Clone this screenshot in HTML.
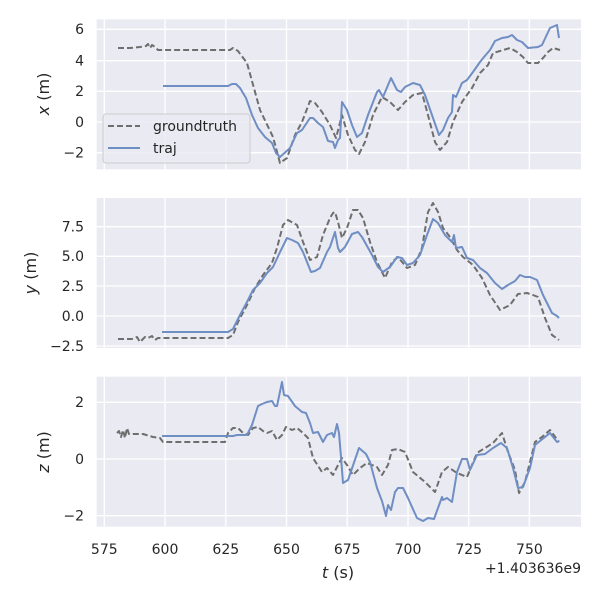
<!DOCTYPE html>
<html><head><style>body{margin:0;background:#fff}svg{display:block}text{font-family:"DejaVu Sans","Liberation Sans",sans-serif;fill:#262626}</style></head>
<body>
<svg width="600" height="600" viewBox="0 0 600 600">
<g id="bg" fill="#eaeaf2">
<rect x="96.7" y="19.3" width="484.3" height="150"/>
<rect x="96.7" y="198" width="484.3" height="150"/>
<rect x="96.7" y="376.7" width="484.3" height="150"/>
</g>
<g stroke="#fff" stroke-width="1.3">
<path d="M104.3 19.3V169.3M165 19.3V169.3M225.8 19.3V169.3M286.5 19.3V169.3M347.2 19.3V169.3M408 19.3V169.3M468.7 19.3V169.3M529.4 19.3V169.3"/>
<path d="M104.3 198V348M165 198V348M225.8 198V348M286.5 198V348M347.2 198V348M408 198V348M468.7 198V348M529.4 198V348"/>
<path d="M104.3 376.7V526.7M165 376.7V526.7M225.8 376.7V526.7M286.5 376.7V526.7M347.2 376.7V526.7M408 376.7V526.7M468.7 376.7V526.7M529.4 376.7V526.7"/>
<path d="M96.7 29.3H581M96.7 60.7H581M96.7 91.3H581M96.7 122H581M96.7 152.7H581"/>
<path d="M96.7 226.7H581M96.7 256.3H581M96.7 286H581M96.7 316H581M96.7 346H581"/>
<path d="M96.7 402.3H581M96.7 459H581M96.7 515.7H581"/>
</g>
<g fill="none" stroke-width="2" stroke-linejoin="round">
<polyline stroke="#6e6e6e" stroke-dasharray="6,3" points="118,48 130,48 140,47 146,46 148,44 150,48 152,45 155,47 158,50 230,50 233,48 238,51 247,63 260,110 273,137 276,148 280,163 287,158 295,135 302,122 310,101 315,103 322,112 330,125 336,138 342,115 348,135 355,150 359,154 365,142 373,115 382,97 390,102 398,110 405,102 413,95 422,93 428,115 435,142 440,150 447,142 453,122 462,102 472,88 480,73 488,65 493,53 500,51 510,48 517,52 523,57 528,63 538,63 543,58 548,52 553,48 560,50"/>
<polyline stroke="#6f8ec3" points="163,86 228,86 232,84 236,84 240,88 246,98 252,115 258,128 265,137 272,143 276,153 280,157 290,148 297,133 302,130 310,118 313,118 318,123 323,127 328,141 333,142 335,148 338,140 340,138 342,102 347,110 352,125 357,137 362,133 368,115 377,92 379,90 383,97 391,78 397,90 401,92 405,87 413,83 420,85 425,95 433,118 439,135 443,130 448,118 452,112 453,95 456,97 462,83 467,80 473,72 480,62 484,57 490,50 495,41 502,38 508,37 512,35 517,40 522,42 528,48 538,47 542,45 550,28 557,25 559,38"/>
<polyline stroke="#6e6e6e" stroke-dasharray="6,3" points="118,339 132,339 137,337 140,342 145,337 148,338 152,336 155,340 158,338 163,338 228,338 233,335 238,322 247,305 255,288 263,275 272,263 277,248 283,225 288,220 297,225 303,242 310,260 317,257 323,235 330,218 333,213 335,212 338,222 342,238 347,228 353,210 358,210 363,218 370,242 377,262 385,278 392,262 398,257 407,268 415,265 422,248 428,212 433,203 438,212 443,228 450,237 457,250 463,257 473,265 482,278 490,295 500,310 510,305 518,294 527,293 533,295 538,297 545,318 552,335 559,340"/>
<polyline stroke="#6f8ec3" points="162,332 228,332 233,329 240,315 247,302 253,290 260,283 267,273 273,267 280,252 287,238 292,240 298,243 303,252 311,272 315,271 320,268 327,252 330,247 335,232 338,248 340,252 345,247 352,234 358,232 362,237 372,255 378,267 383,272 390,267 397,257 402,258 407,265 413,263 420,255 427,235 433,219 438,223 445,235 452,242 454,235 456,248 462,247 467,258 473,260 480,268 487,273 495,283 502,289 508,285 515,281 520,275 525,277 530,277 537,280 543,295 552,313 557,316 559,318"/>
<polyline stroke="#6e6e6e" stroke-dasharray="6,3" points="117,433 119,431 121,437 123,430 125,438 127,428 129,434 137,434 143,434 153,437 160,438 163,442 225,442 228,433 233,428 238,428 243,433 248,435 253,428 258,427 263,431 267,433 272,431 277,440 282,435 286,427 292,430 297,428 303,433 308,438 313,458 322,472 327,468 333,475 338,465 342,458 347,465 353,475 360,468 367,463 377,467 382,475 388,465 392,450 398,449 405,452 413,472 425,482 435,492 442,472 448,467 457,473 467,477 477,453 485,448 493,443 502,433 508,452 515,470 519,493 525,482 530,462 535,442 542,437 550,430 559,442"/>
<polyline stroke="#6f8ec3" points="162,436 233,436 237,435 247,435 252,425 258,406 262,404 267,402 272,401 275,406 277,406 282,382 284,395 288,396 295,406 302,412 306,413 310,423 313,433 318,432 323,442 327,435 332,433 334,437 337,424 339,433 341,457 343,483 348,480 359,448 366,454 370,462 377,488 382,501 386,516 388,505 391,510 395,492 398,488 403,488 408,498 412,507 417,518 423,521 428,518 434,519 442,497 443,500 447,498 452,502 457,472 462,459 467,459 470,470 477,455 485,454 493,448 501,443 507,448 513,468 518,488 523,487 530,468 535,445 540,441 550,433 557,442 559,441"/>
</g>
<rect x="103" y="114" width="147" height="49" rx="3" fill="#eaeaf2" fill-opacity="0.8" stroke="#ccc" stroke-width="1"/>
<line x1="108" y1="126" x2="140" y2="126" stroke="#6e6e6e" stroke-width="2" stroke-dasharray="6,3"/>
<line x1="108" y1="148" x2="140" y2="148" stroke="#6f8ec3" stroke-width="2"/>
<text x="153" y="131" font-size="14">groundtruth</text>
<text x="153" y="153" font-size="14">traj</text>
<g font-size="14" text-anchor="end">
<text x="84" y="34">6</text><text x="84" y="65.5">4</text><text x="84" y="96">2</text><text x="84" y="127">0</text><text x="84" y="157.5">−2</text>
<text x="84" y="231.5">7.5</text><text x="84" y="261">5.0</text><text x="84" y="291">2.5</text><text x="84" y="321">0.0</text><text x="84" y="351">−2.5</text>
<text x="84" y="407">2</text><text x="84" y="464">0</text><text x="84" y="520.5">−2</text>
</g>
<g font-size="14" text-anchor="middle">
<text x="104.3" y="554">575</text><text x="165" y="554">600</text><text x="225.8" y="554">625</text><text x="286.5" y="554">650</text><text x="347.2" y="554">675</text><text x="408" y="554">700</text><text x="468.7" y="554">725</text><text x="529.4" y="554">750</text>
</g>
<text x="581" y="573" font-size="14" text-anchor="end">+1.403636e9</text>
<text x="338" y="578" font-size="16" text-anchor="middle"><tspan font-style="italic">t</tspan> (s)</text>
<g font-size="16" text-anchor="middle">
<text transform="translate(49,94) rotate(-90)"><tspan font-style="italic">x</tspan> (m)</text>
<text transform="translate(36,273) rotate(-90)"><tspan font-style="italic">y</tspan> (m)</text>
<text transform="translate(49,452) rotate(-90)"><tspan font-style="italic">z</tspan> (m)</text>
</g>
</svg>
</body></html>
